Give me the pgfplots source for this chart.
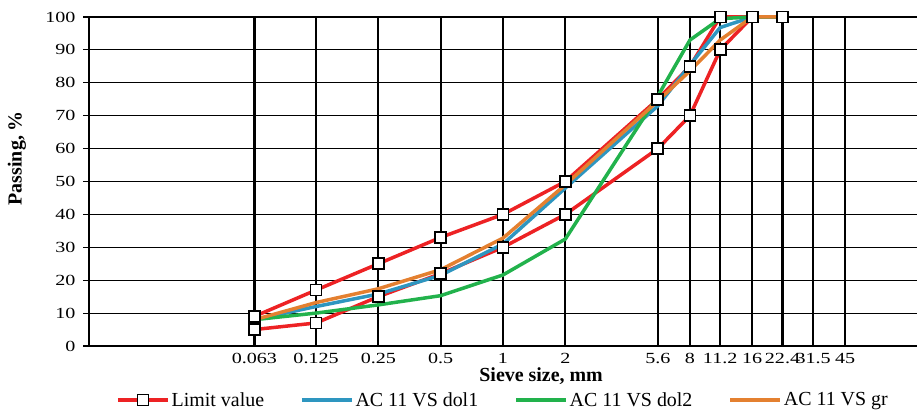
\documentclass[border=0pt]{standalone}
\usepackage{fontspec}
\setmainfont{Liberation Serif}
\newfontfamily\tickfont{Liberation Serif}[FakeStretch=1.3]
\usepackage{pgfplots}
\pgfplotsset{compat=1.18}
\usetikzlibrary{calc}
\definecolor{cred}{RGB}{237,34,36}
\definecolor{cblue}{RGB}{46,150,192}
\definecolor{cgreen}{RGB}{34,178,76}
\definecolor{corange}{RGB}{228,128,48}
\begin{document}
\begin{tikzpicture}
\begin{axis}[
  scale only axis, width=828bp, height=329bp,
  xmode=log, xmin=0.01, xmax=100, ymin=0, ymax=100,
  axis lines*=left,
  axis line style={black, line width=1.2bp},
  ymajorgrids, grid style={black, line width=1.1bp},
  ytick={0,10,20,30,40,50,60,70,80,90,100},
  yticklabels={0,10,20,30,40,50,60,70,80,90,100},
  xtick={0.063,0.125,0.25,0.5,1,2,5.6,8,11.2,16,22.4,31.5,45},
  xticklabels={0.063,0.125,0.25,0.5,1,2,5.6,8,11.2,16,22.4,31.5,45},
  x tick style={draw=none}, xminorticks=false,
  y tick style={black, line width=1.1bp},
  tick align=outside, major tick length=6bp,
  /pgf/number format/assume math mode=true,
  ticklabel style={font=\tickfont\fontsize{15.5}{15.5}\selectfont},
  yticklabel style={xshift=-4bp},
  xticklabel style={yshift=2bp},
  xlabel={\textbf{Sieve size, mm}},
  xlabel style={font=\fontsize{20}{20}\selectfont, at={(axis description cs:0.546,0)}, anchor=base, yshift=-35bp},
  ylabel={\textbf{Passing, \%}},
  ylabel style={font=\fontsize{20}{20}\selectfont, at={(axis description cs:0,0.571)}, anchor=center, yshift=72bp},
  legend columns=4,
  legend style={draw=none, fill=none, font=\fontsize{20}{20}\selectfont,
    at={(axis description cs:0.5,0)}, anchor=center, yshift=-54bp,
    /tikz/every even column/.append style={column sep=34bp}},
  legend image code/.code={\draw[mark repeat=2,mark phase=2] plot coordinates {(0bp,0bp) (25bp,0bp) (50bp,0bp)};},
  clip=false,
]
% vertical sieve lines with caps
\addplot[ycomb, black, line width=2.2bp, mark=-, mark size=6bp, mark options={line width=1.6bp}, forget plot]
coordinates {(0.063,100)(0.125,100)(0.25,100)(0.5,100)(1,100)(2,100)(5.6,100)(8,100)(11.2,100)(16,100)(22.4,100)(31.5,100)(45,100)};
% limits
\addplot[cred, line width=3.5bp, mark=square*, mark size=5.5bp, mark options={fill=white, draw=black, line width=1.8bp}]
coordinates {(0.063,9)(0.125,17)(0.25,25)(0.5,33)(1,40)(2,50)(5.6,75)(8,85)(11.2,100)(16,100)(22.4,100)};
\addlegendentry{Limit value}
\addplot[cred, line width=3.5bp, mark=square*, mark size=5.5bp, mark options={fill=white, draw=black, line width=1.8bp}, forget plot]
coordinates {(0.063,5)(0.125,7)(0.25,15)(0.5,22)(1,30)(2,40)(5.6,60)(8,70)(11.2,90)(16,100)(22.4,100)};
\addplot[cblue, line width=3.5bp, mark=none]
coordinates {(0.063,8)(0.125,12)(0.25,15.8)(0.5,21.5)(1,31)(2,48)(5.6,73)(8,85.4)(11.2,96.8)(16,100)(22.4,100)};
\addlegendentry{AC 11 VS dol1}
\addplot[cgreen, line width=3.5bp, mark=none]
coordinates {(0.063,8)(0.125,10)(0.25,12.5)(0.5,15.3)(1,21.6)(2,32.5)(5.6,76)(8,93)(11.2,99.5)(16,100)(22.4,100)};
\addlegendentry{AC 11 VS dol2}
\addplot[corange, line width=3.5bp, mark=none]
coordinates {(0.063,8)(0.125,13.2)(0.25,17.4)(0.5,23.2)(1,32.8)(2,49)(5.6,74.5)(8,83.6)(11.2,93)(16,100)(22.4,100)};
\addlegendentry{AC 11 VS gr}
\end{axis}
\pgfresetboundingbox
\path[use as bounding box] ($(current axis.south west)+(-89bp,-70bp)$) rectangle ($(current axis.north east)+(0bp,17bp)$);
\end{tikzpicture}
\end{document}
